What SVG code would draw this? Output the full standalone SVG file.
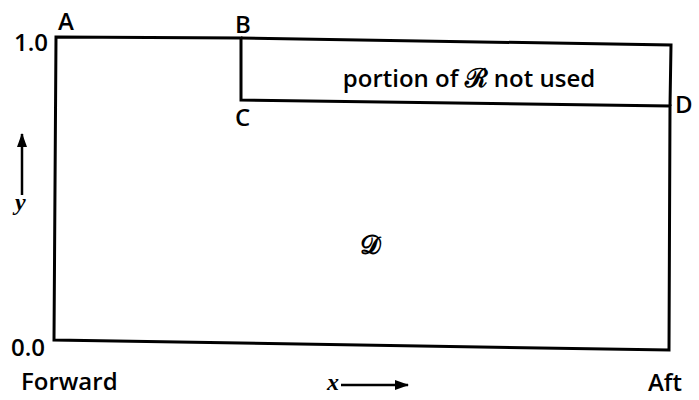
<svg xmlns="http://www.w3.org/2000/svg" width="699" height="400" viewBox="0 0 699 400">
<defs>
<marker id="ah" markerWidth="14" markerHeight="10" refX="13" refY="5" orient="auto" markerUnits="userSpaceOnUse">
<path d="M0,0 L14,5 L0,10 Z" fill="#000"/>
</marker>
<style>
.ln{fill:none;stroke:#000;stroke-width:3;stroke-linejoin:miter}
.t{font-family:"Open Sans","Liberation Sans",sans-serif;font-weight:600;font-size:24px;fill:#000}
.m{font-family:"Liberation Serif","DejaVu Serif",serif;font-style:italic;font-size:24px;fill:#000}
.s{font-family:"DejaVu Serif","Liberation Serif",serif;font-style:normal;font-weight:700;font-size:26px;fill:#000}
</style>
</defs>
<rect width="699" height="400" fill="#fff"/>
<g id="region-D">
<path class="ln" d="M56,37 L241,38 L241,100 L670,106 L669,350 L54,340 Z"/>
<text class="s" x="370" y="254" text-anchor="middle">𝒟</text>
</g>
<g id="region-unused">
<path class="ln" d="M241,38 L671,45 L670,106"/>
<text class="t" x="469" y="87" text-anchor="middle">portion of <tspan class="s">ℛ</tspan> not used</text>
</g>
<g id="labels">
<text class="t" x="58" y="30">A</text>
<text class="t" x="235" y="33">B</text>
<text class="t" x="235" y="126">C</text>
<text class="t" x="675" y="113">D</text>
<text class="t" x="14" y="51">1.0</text>
<text class="t" x="11" y="356">0.0</text>
<text class="t" x="21" y="390">Forward</text>
<text class="t" x="648" y="391">Aft</text>
<text class="m" x="15" y="210" font-weight="700">y</text>
<text class="m" x="327" y="390" font-weight="700">x</text>
</g>
<g id="connectors">
<line x1="22" y1="195" x2="22" y2="134" stroke="#000" stroke-width="2.5" marker-end="url(#ah)"/>
<line x1="341" y1="385" x2="408" y2="385" stroke="#000" stroke-width="2.5" marker-end="url(#ah)"/>
</g>
</svg>
